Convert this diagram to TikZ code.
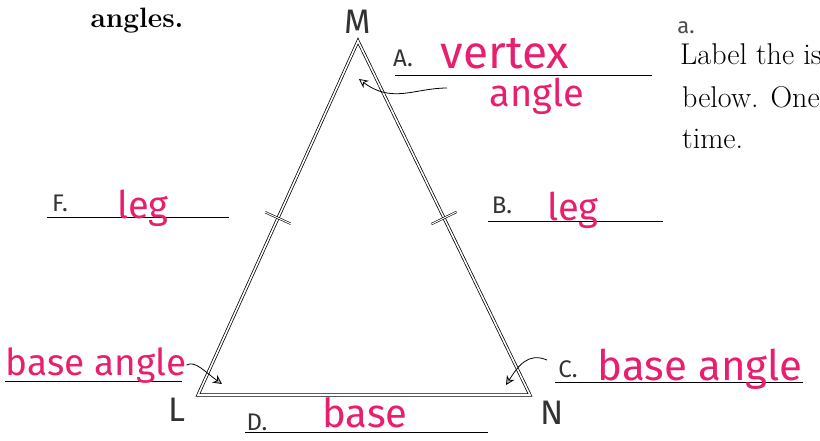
\documentclass[tikz,border=0pt]{standalone}
\usepackage{fontspec}
\usepackage{tikz}
\usetikzlibrary{calc,arrows.meta}
\newfontfamily\handfont{Fira Sans}
\definecolor{marker}{RGB}{232,30,110}

\begin{document}
\begin{tikzpicture}[x=1pt,y=-1pt,
  edge/.style={double,double distance=1.6pt,line width=0.75pt,line join=miter},
  blank/.style={double,double distance=1pt,line width=0.6pt},
  pen/.style={text=marker,font=\handfont\fontsize{38}{38}\selectfont,anchor=base,inner sep=0pt},
  tag/.style={text=black!80,font=\handfont\fontsize{24}{24}\selectfont,inner sep=0pt},
  vtx/.style={text=black!80,font=\handfont\fontsize{34}{34}\selectfont,inner sep=0pt},
  print/.style={font=\fontsize{30}{30}\selectfont,anchor=base west,inner sep=0pt},
  pointer/.style={line width=0.8pt,-{Stealth[length=9pt,width=9pt,fill=black!30]}}]
 \useasboundingbox (0,0) rectangle (820,440);
 \coordinate (M) at (358,41);
 \coordinate (L) at (198,395);
 \coordinate (N) at (530,395);
 \draw[edge] (M)--(L)--(N)--cycle;
 \coordinate (ML) at ($(M)!0.5!(L)$);
 \coordinate (MN) at ($(M)!0.5!(N)$);
 \draw[blank] ($(ML)!14pt!90:(M)$)--($(ML)!14pt!-90:(M)$);
 \draw[blank] ($(MN)!14pt!90:(M)$)--($(MN)!14pt!-90:(M)$);
 \node[vtx] (m) at (358,22) {M};
 \node[vtx] (l) at (177,410) {L};
 \node[vtx] (n) at (552,413) {N};

 \node[font=\bfseries\fontsize{28}{28}\selectfont,anchor=base,inner sep=0pt] (top) at (137,27) {angles.};
 \node[font=\handfont\fontsize{22}{22}\selectfont,text=black!70,inner sep=0pt] (a) at (686,28) {a.};
 \node[print] (p1) at (680,64) {Label the is};
 \node[print] (p2) at (682,107) {below. One};
 \node[print] (p3) at (682,148) {time.};

 \draw[blank] (395,76)--(652,76);
 \node[tag] (tA) at (403,58) {A.};
 \node[pen,font=\handfont\fontsize{46}{46}\selectfont] (vertex) at (505,68) {vertex};
 \node[pen] (angleA) at (537,106) {angle};
 \coordinate (va) at (447,88);
 \coordinate (vh) at (359,79);
 \draw[pointer,-{Stealth[length=9pt,width=9pt,open]}] (va) .. controls (415,88) and (392,104) .. (vh);

 \draw[blank] (47,218)--(229,218);
 \node[tag] (tF) at (60,203) {F.};
 \node[pen] (legF) at (143,218) {leg};

 \draw[blank] (488,222)--(663,222);
 \node[tag] (tB) at (502,205) {B.};
 \node[pen] (legB) at (573,220) {leg};

 \draw[blank] (5,382)--(182,382);
 \node[pen,font=\handfont\fontsize{37}{37}\selectfont] (baseL) at (96,375) {base angle};
 \coordinate (lh) at (222,384);
 \draw[pointer] (baseL.east) .. controls (195,360) and (205,372) .. (lh);

 \draw[blank] (555,383)--(803,383);
 \node[tag] (tC) at (568,369) {C.};
 \node[pen,font=\handfont\fontsize{42}{42}\selectfont] (baseN) at (700,380) {base angle};
 \coordinate (ca) at (547,360);
 \coordinate (nh) at (506,385);
 \draw[pointer] (ca) .. controls (528,352) and (518,366) .. (nh);

 \draw[blank] (245,433)--(488,433);
 \node[tag] (tD) at (257,422) {D.};
 \node[pen,font=\handfont\fontsize{40}{40}\selectfont] (base) at (365,427) {base};
\end{tikzpicture}
\end{document}
